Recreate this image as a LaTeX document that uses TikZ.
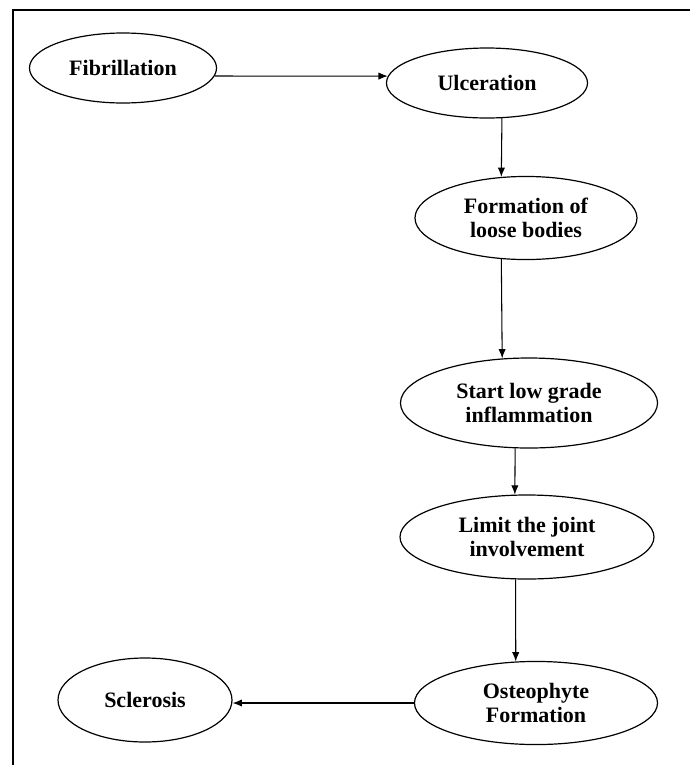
\documentclass[tikz,border=0pt]{standalone}
\usepackage{fontspec}
\setmainfont{Liberation Serif}
\usetikzlibrary{arrows.meta,shapes}

\begin{document}
\begin{tikzpicture}[x=0.75pt,y=-0.75pt,line width=0.8pt,>={Latex[length=7pt,width=5.5pt]},stage/.style={draw, ellipse, fill=none, inner sep=0pt, line width=0.9pt, text centered, align=center, text=black, font=\fontsize{16.5}{17.5}\selectfont\bfseries}]
                        \useasboundingbox (0,0) rectangle (690,765);
                        \draw [line width=1.6pt] (13,765) -- (13,10) -- (690,10);
                        \node[stage, minimum width=140.3pt, minimum height=52.5pt] (fib) at (123,68) {Fibrillation};
                        \node[stage, minimum width=150.8pt, minimum height=52.5pt] (ulc) at (487,83) {Ulceration};
                        \node[stage, minimum width=166.5pt, minimum height=62.3pt] (fob) at (526,218) {Formation of\\loose bodies};
                        \node[stage, minimum width=192.8pt, minimum height=67.5pt] (slg) at (529,403) {Start low grade\\inflammation};
                        \node[stage, minimum width=190.5pt, minimum height=63pt] (ltj) at (527,537) {Limit the joint\\involvement};
                        \node[stage, minimum width=182.3pt, minimum height=62.3pt] (ost) at (536,703) {Osteophyte\\Formation};
                        \node[stage, minimum width=130.5pt, minimum height=63pt] (scl) at (145,700) {Sclerosis};
                        \draw [->] (fib.-5) -- (ulc.176);
                        \draw [->] (ulc.-67) -- (fob.121);
                        \draw [->] (fob.-121) -- (slg.121);
                        \draw [->] (slg.-107) -- (ltj.106);
                        \draw [->] (ltj.-105) -- (ost.116);
                        \draw [->] (ost.west) -- (ost.west -| scl.east);
                        \end{tikzpicture}
\end{document}
